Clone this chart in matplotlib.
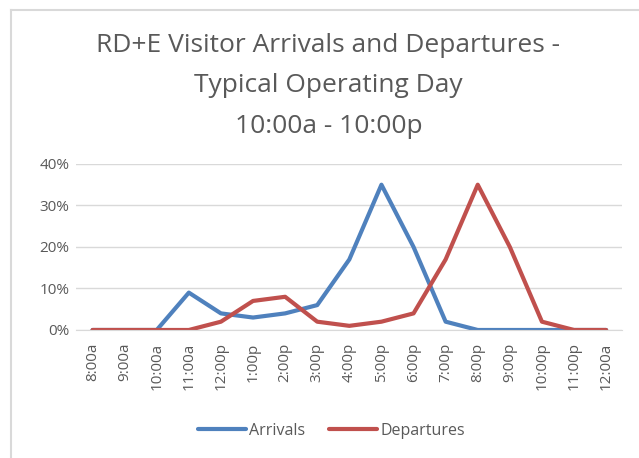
import matplotlib.pyplot as plt
import matplotlib
from matplotlib.ticker import PercentFormatter
from matplotlib.lines import Line2D

matplotlib.rcParams['font.family'] = ['Open Sans', 'DejaVu Sans']
matplotlib.rcParams['font.size'] = 11

times = ['8:00a', '9:00a', '10:00a', '11:00a', '12:00p', '1:00p', '2:00p', '3:00p',
         '4:00p', '5:00p', '6:00p', '7:00p', '8:00p', '9:00p', '10:00p', '11:00p', '12:00a']
arrivals = [0, 0, 0, 9, 4, 3, 4, 6, 17, 35, 20, 2, 0, 0, 0, 0, 0]
departures = [0, 0, 0, 0, 2, 7, 8, 2, 1, 2, 4, 17, 35, 20, 2, 0, 0]

gray = '#595959'

fig = plt.figure(figsize=(6.39, 4.58), dpi=100)

# chart border (runs off the right and bottom edges)
bx, by = 10.5 / 639, 1 - 9.5 / 458
fig.add_artist(Line2D([bx, bx], [0, by], transform=fig.transFigure, color='#D9D9D9', lw=1.5))
fig.add_artist(Line2D([bx, 1], [by, by], transform=fig.transFigure, color='#D9D9D9', lw=1.5))

ax = fig.add_axes([0.1197, 0.2795, 0.854, 0.3625])

x = range(len(times))
ax.plot(x, [v / 100 for v in arrivals], color='#4F81BD', lw=3, label='Arrivals', solid_capstyle='round')
ax.plot(x, [v / 100 for v in departures], color='#C0504D', lw=3, label='Departures', solid_capstyle='round')

ax.set_ylim(0, 0.4)
ax.set_yticks([0, 0.1, 0.2, 0.3, 0.4])
ax.yaxis.set_major_formatter(PercentFormatter(1.0, decimals=0))
ax.set_xlim(-0.5, len(times) - 0.5)
ax.set_xticks(list(x))
ax.set_xticklabels(times, rotation=90)
ax.tick_params(length=0, colors=gray, labelsize=11)
ax.tick_params(axis='y', pad=5)
ax.tick_params(axis='x', pad=9)
ax.grid(axis='y', color='#D9D9D9', lw=1)
ax.set_axisbelow(True)
for s in ['top', 'right', 'left']:
    ax.spines[s].set_visible(False)
ax.spines['bottom'].set_color('#D9D9D9')

fig.text(0.514, 0.8130, 'RD+E Visitor Arrivals and Departures -\nTypical Operating Day\n10:00a - 10:00p',
         ha='center', va='center', fontsize=19, color=gray, linespacing=1.82)

fig.legend(loc='center', bbox_to_anchor=(0.519, 0.059), ncol=2, frameon=False,
           labelcolor=gray, fontsize=11.5, handlelength=3, handletextpad=0.2, columnspacing=1.5)

fig.savefig('out.png', dpi=100)
